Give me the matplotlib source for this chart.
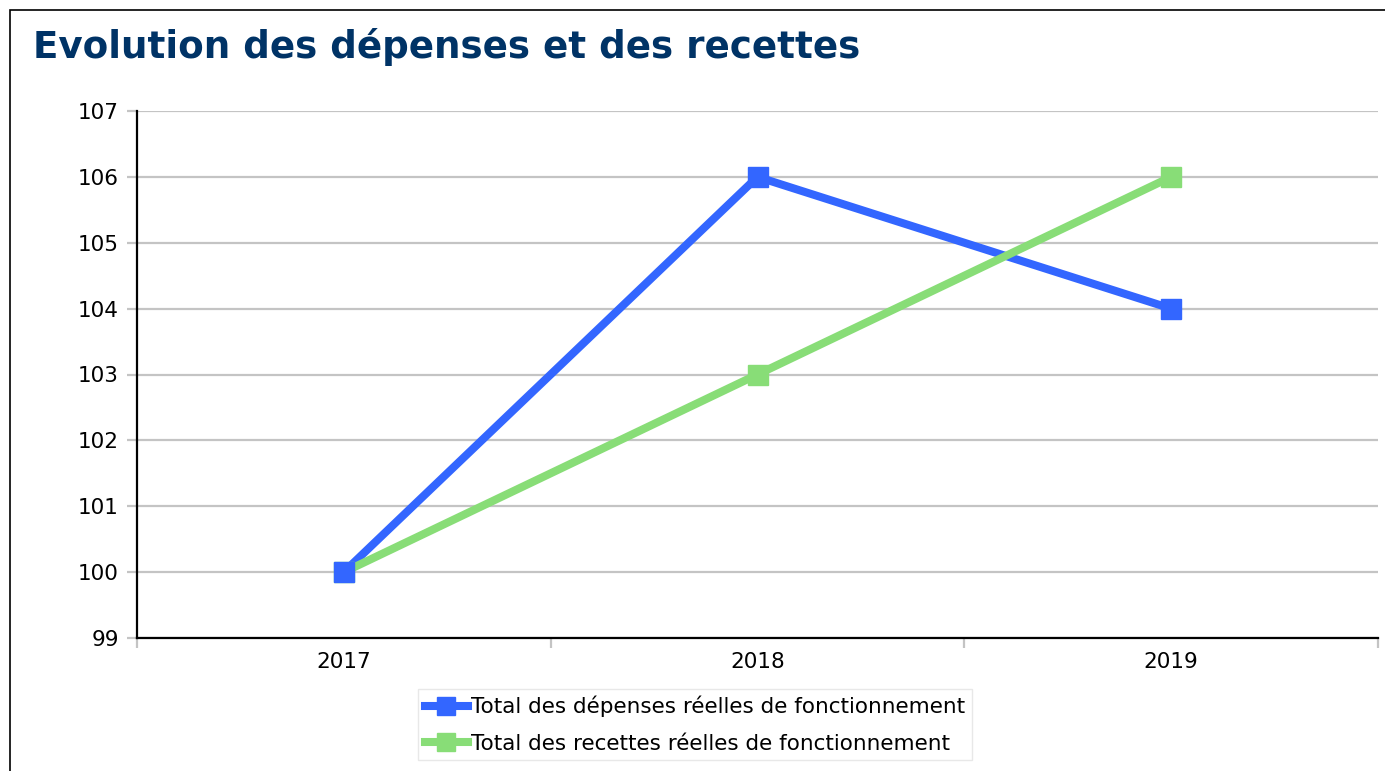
import matplotlib
matplotlib.use('Agg')
import matplotlib.pyplot as plt
from matplotlib.patches import Rectangle
from matplotlib.lines import Line2D

# Données du graphique
annees = ['2017', '2018', '2019']
depenses = [100, 106, 104]
recettes = [100, 103, 106]
labels_series = ['Total des dépenses réelles de fonctionnement',
                 'Total des recettes réelles de fonctionnement']
yticks = [99, 100, 101, 102, 103, 104, 105, 106, 107]

bleu = '#3366FF'
vert = '#88DD77'

fig = plt.figure(figsize=(13.85, 7.71), dpi=100)
ax = fig.add_axes([137 / 1385, 1 - 638 / 771, (1378 - 137) / 1385, (638 - 111) / 771])

x = range(len(annees))
# lignes d'abord, puis marqueurs par-dessus
ax.plot(x, depenses, color=bleu, lw=5.8, zorder=3)
ax.plot(x, recettes, color=vert, lw=5.8, zorder=3)
ax.plot(x, recettes, ls='none', color=vert, marker='s', ms=15, zorder=4)
ax.plot(x, depenses, ls='none', color=bleu, marker='s', ms=15, zorder=4)

ax.set_xlim(-0.5, 2.5)
ax.set_ylim(99, 107)
ax.set_yticks(yticks)
ax.set_xticks(list(x))
ax.set_xticklabels(annees)
ax.set_xticks([-0.5, 0.5, 1.5, 2.5], minor=True)

ax.grid(axis='y', color='#c4c4c4', lw=1.6)
ax.set_axisbelow(True)
ax.tick_params(axis='y', length=7, width=1.6, color='#c4c4c4', pad=6, labelsize=15.5)
ax.tick_params(axis='x', which='major', length=0, pad=10, labelsize=15.5)
ax.tick_params(axis='x', which='minor', length=7, width=1.6, color='#c4c4c4')

for s in ['top', 'right']:
    ax.spines[s].set_visible(False)
for s in ['left', 'bottom']:
    ax.spines[s].set_linewidth(1.6)
    ax.spines[s].set_color('black')

fig.text(33 / 1385, 1 - 47 / 771, 'Evolution des dépenses et des recettes',
         fontsize=26.8, fontweight='bold', color='#003366', va='center', ha='left')

handles = [Line2D([], [], color=bleu, lw=5.8, marker='s', ms=13),
           Line2D([], [], color=vert, lw=5.8, marker='s', ms=13)]
leg = ax.legend(handles, labels_series, loc='upper left',
                bbox_to_anchor=(418 / 1385, 1 - 689 / 771),
                bbox_transform=fig.transFigure, borderaxespad=0, fontsize=15.5,
                fancybox=False, edgecolor='#e8e8e8', framealpha=1,
                handlelength=2.0, handletextpad=0.15, labelspacing=0.75,
                borderpad=0.32)
leg.get_frame().set_linewidth(1)

# cadre extérieur
fig.patches.append(Rectangle((10 / 1385, -0.1), 1.2, 1.1 - 10 / 771,
                             transform=fig.transFigure, fill=False,
                             edgecolor='black', lw=1.2))

fig.savefig('out.png', dpi=100)
